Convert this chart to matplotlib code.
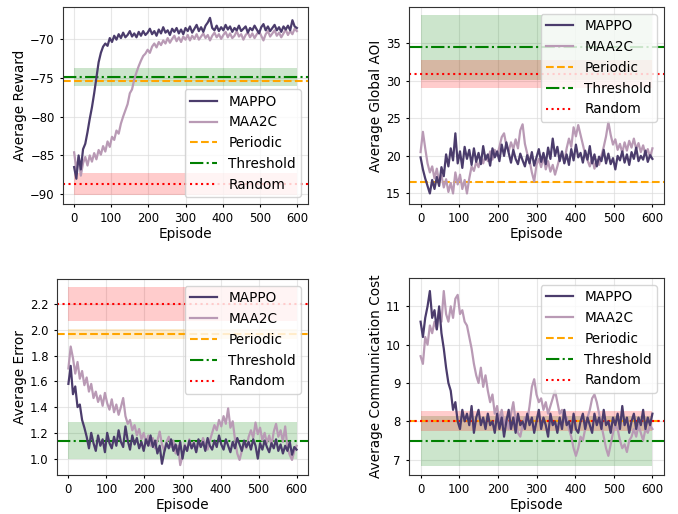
import matplotlib
matplotlib.use('Agg')
import matplotlib.pyplot as plt
import numpy as np

# ---- data (one value every 6 episodes) ----
rewardMappo = [-86.5, -88.0, -85.0, -86.8, -84.2, -83.5, -82.0, -80.3, -78.8, -77.0,
               -75.0, -73.0, -71.8, -71.0, -70.6, -70.9, -69.9, -70.4, -69.6, -70.1,
               -69.4, -69.9, -69.2, -69.8, -69.5, -69.0, -69.7, -69.3, -69.8, -69.1,
               -69.6, -69.0, -69.5, -69.2, -68.7, -69.4, -69.0, -69.6, -68.8, -69.3,
               -68.5, -69.2, -68.9, -69.5, -68.7, -69.1, -68.6, -69.3, -68.8, -69.4,
               -68.6, -69.0, -68.4, -69.2, -68.7, -68.2, -69.0, -68.5, -69.1, -68.3,
               -67.9, -67.3, -68.6, -68.9, -68.3, -69.0, -68.5, -68.9, -68.2, -68.8,
               -68.4, -69.1, -68.6, -68.9, -68.3, -69.0, -68.7, -68.4, -69.2, -68.6,
               -68.9, -68.3, -68.8, -69.3, -68.5, -68.1, -68.9, -68.4, -69.0, -68.6,
               -68.2, -68.9, -68.5, -69.1, -68.4, -68.8, -68.3, -68.9, -67.6, -68.4,
               -68.6]
rewardMaa2c = [-84.6, -86.8, -85.3, -87.6, -86.0, -85.2, -86.3, -85.0, -85.8, -84.7,
               -85.5, -84.3, -84.9, -83.8, -84.5, -83.2, -83.9, -82.6, -83.0, -81.8,
               -82.2, -80.9, -80.0, -79.2, -78.4, -77.0, -76.5, -75.2, -74.3, -73.5,
               -72.8, -72.2, -71.9, -71.4, -71.8, -71.0, -70.6, -71.1, -70.4, -70.8,
               -70.2, -70.6, -69.9, -70.5, -70.0, -69.6, -70.3, -69.8, -70.4, -69.7,
               -70.1, -69.5, -70.2, -69.6, -70.0, -69.4, -70.1, -69.7, -69.3, -69.9,
               -69.5, -70.2, -69.6, -69.2, -69.8, -69.4, -70.0, -69.5, -69.1, -69.8,
               -69.3, -69.9, -69.6, -69.0, -69.7, -69.4, -70.1, -69.5, -69.2, -69.8,
               -69.3, -69.9, -69.4, -69.0, -69.6, -70.2, -69.4, -69.0, -69.7, -69.3,
               -68.9, -69.6, -69.2, -69.8, -69.3, -68.8, -69.5, -69.0, -69.4, -68.7,
               -69.0]

aoiMappo = [19.8, 18.2, 17.0, 16.0, 15.0, 16.8, 15.6, 17.2, 16.0, 18.5,
            17.3, 20.2, 18.6, 21.0, 19.4, 23.0, 19.0, 20.6, 18.4, 21.2,
            19.6, 20.8, 18.8, 21.0, 19.2, 20.4, 18.9, 21.3, 19.5, 20.2,
            18.7, 21.0, 19.8, 20.6, 19.3, 21.5, 20.0, 21.8, 20.4, 19.1,
            20.8, 19.6, 18.9, 20.3, 19.4, 18.6, 20.1, 19.0, 20.5, 18.7,
            19.8, 20.9, 19.2, 20.4, 18.9, 21.1, 19.6, 22.3, 20.0, 21.2,
            19.3, 20.6, 19.0, 20.2, 18.8, 20.9, 19.4, 21.5, 19.8, 20.4,
            19.1, 20.7, 19.5, 21.3, 19.0, 20.2, 18.6, 19.9, 19.3, 20.8,
            19.0, 20.3, 18.9, 19.7, 18.2, 20.0, 19.4, 20.6, 19.1, 20.2,
            18.8, 20.5, 19.6, 21.1, 19.3, 20.0, 19.5, 20.7, 19.2, 20.1,
            19.6]
aoiMaa2c = [20.5, 23.2, 21.0, 19.0, 17.8, 18.6, 17.0, 18.3, 16.5, 17.4,
            15.8, 16.9, 15.2, 16.4, 15.0, 17.8, 16.2, 17.5, 15.6, 16.8,
            15.0, 17.0, 18.6, 18.0, 19.2, 18.5, 19.8, 19.0, 20.1, 19.3,
            20.6, 19.5, 20.8, 20.0, 21.2, 22.5, 23.0, 21.4, 20.6, 21.8,
            20.9, 22.2, 21.0, 23.4, 24.2, 21.6, 20.3, 19.4, 17.8, 16.6,
            18.8, 19.6, 18.5, 19.9, 18.2, 19.3, 17.9, 18.8, 17.5, 18.6,
            19.8, 20.4, 19.1, 21.0, 22.3, 21.2, 23.8, 22.6, 24.1, 22.8,
            21.5, 20.2, 19.4, 18.6, 19.8, 18.3, 19.5, 18.8, 20.0, 21.2,
            22.6, 24.5, 22.8, 21.5, 22.2, 20.8, 21.6, 20.4, 21.8, 20.7,
            22.0, 21.1, 22.3, 20.9, 21.7, 20.5, 21.4, 20.2, 20.9, 19.8,
            21.0]

errMappo = [1.58, 1.72, 1.50, 1.56, 1.40, 1.42, 1.30, 1.24, 1.17, 1.08,
            1.20, 1.12, 1.06, 1.18, 1.10, 1.15, 1.05, 1.20, 1.12, 1.08,
            1.17, 1.10, 1.22, 1.13, 1.09, 1.25, 1.14, 1.07, 1.18, 1.11,
            1.16, 1.08, 1.13, 1.06, 1.15, 1.10, 1.18, 1.09, 1.14, 1.04,
            1.10, 0.96, 1.05, 1.12, 1.08, 1.15, 1.06, 1.11, 1.03, 1.13,
            1.00, 1.10, 1.06, 1.14, 1.08, 1.12, 1.05, 1.15, 1.09, 1.13,
            1.06, 1.16, 1.10, 1.07, 1.14, 1.09, 1.18, 1.11, 1.07, 1.15,
            1.10, 1.05, 1.13, 1.08, 1.16, 1.11, 1.06, 1.14, 1.09, 1.13,
            1.07, 1.15, 1.10, 1.00, 1.12, 1.07, 1.14, 1.09, 1.05, 1.12,
            1.08, 1.15, 1.06, 1.11, 1.04, 1.10, 1.06, 1.13, 1.03, 1.09,
            1.07]
errMaa2c = [1.70, 1.87, 1.78, 1.66, 1.75, 1.62, 1.68, 1.57, 1.63, 1.52,
            1.58, 1.47, 1.52, 1.44, 1.49, 1.41, 1.51, 1.43, 1.38, 1.46,
            1.36, 1.42, 1.34, 1.40, 1.47, 1.33, 1.27, 1.30, 1.22, 1.26,
            1.18, 1.23, 1.15, 1.20, 1.12, 1.18, 1.10, 1.16, 1.08, 1.14,
            1.21, 1.11, 1.06, 1.13, 1.17, 1.09, 1.14, 1.04, 1.10, 0.95,
            1.02, 1.11, 1.06, 1.15, 1.08, 1.13, 1.05, 1.12, 1.09, 1.16,
            1.11, 1.07, 1.14, 1.20, 1.26, 1.22, 1.30, 1.25, 1.33, 1.27,
            1.39, 1.24, 1.29, 1.15, 1.04, 0.99, 1.06, 1.12, 1.08, 1.17,
            1.22, 1.16, 1.28, 1.19, 1.24, 1.14, 1.20, 1.12, 1.18, 1.10,
            1.21, 1.27, 1.17, 1.22, 1.13, 1.25, 1.08, 1.03, 0.99, 1.06,
            1.10]

commMappo = [10.6, 10.2, 10.7, 11.0, 11.4, 10.7, 10.9, 10.4, 11.0, 10.3,
             9.9, 9.4, 9.0, 8.8, 8.3, 8.5, 8.0, 7.8, 8.3, 8.0,
             8.2, 7.9, 8.4, 7.7, 8.1, 8.3, 7.9, 8.1, 7.8, 8.2,
             7.9, 8.0, 7.7, 8.2, 7.8, 8.1, 7.6, 8.0, 8.3, 7.8,
             8.1, 7.7, 8.2, 7.9, 8.0, 7.8, 8.2, 7.9, 8.1, 7.7,
             8.0, 8.3, 7.8, 8.1, 7.9, 7.6, 8.2, 7.9, 8.0, 7.7,
             8.1, 7.8, 8.3, 7.9, 8.0, 7.7, 8.2, 7.8, 7.7, 8.0,
             8.2, 7.8, 8.1, 7.9, 7.7, 8.2, 7.9, 8.1, 7.8, 8.3,
             7.9, 8.0, 7.7, 8.1, 7.9, 8.2, 7.8, 8.4, 7.9, 8.1,
             7.7, 8.0, 8.2, 7.8, 8.1, 7.9, 8.3, 7.8, 8.1, 7.9,
             8.2]
commMaa2c = [9.7, 9.5, 10.2, 10.0, 10.5, 10.3, 10.6, 10.4, 10.9, 10.6,
             11.4, 10.8, 10.6, 11.0, 10.7, 11.2, 11.3, 10.8, 10.9, 10.6,
             10.5, 10.2, 9.9, 9.5, 9.2, 9.0, 9.4, 8.9, 9.2, 8.8,
             8.5, 8.7, 8.2, 8.4, 8.0, 8.3, 7.9, 8.1, 7.8, 8.2,
             8.5, 8.0, 7.7, 7.6, 7.9, 8.1, 8.0, 8.4, 8.9, 9.1,
             8.7, 8.5, 8.6, 8.3, 8.5, 8.2, 8.4, 8.6, 8.8, 8.5,
             8.2, 8.3, 8.0, 8.1, 7.8, 7.6, 7.3, 7.1, 7.3, 7.6,
             7.5, 7.8, 8.1, 8.3, 8.6, 8.7, 8.5, 8.2, 7.9, 7.6,
             7.3, 7.1, 7.4, 7.7, 7.9, 7.8, 7.5, 7.3, 7.4, 7.2,
             7.5, 7.6, 7.8, 7.6, 7.9, 7.7, 7.5, 7.8, 7.7, 7.9,
             7.8]

# baselines: mean and spread for Periodic, Threshold, Random
baseNames = ['Periodic', 'Threshold', 'Random']
rewardBase, rewardBaseStd = [-75.4, -74.9, -88.7], [0.05, 1.2, 1.4]
aoiBase, aoiBaseStd = [16.5, 34.45, 30.9], [0.05, 4.35, 1.85]
errBase, errBaseStd = [1.967, 1.14, 2.2], [0.04, 0.143, 0.135]
commBase, commBaseStd = [8.02, 7.48, 8.0], [0.01, 0.65, 0.265]

# ---- styles ----
cMappo = '#4b3c6c'
cMaa2c = '#b99ab5'
baseColors = ['orange', 'green', 'red']
baseStyles = ['--', '-.', ':']
labSize, tickSize, legSize = 9.8, 8.4, 9.8

W, H = 678, 514
fig = plt.figure(figsize=(W/100., H/100.), dpi=100)

def pixAxes(left, top, right, bottom):
    return fig.add_axes([left/W, 1 - bottom/H, (right-left)/W, (bottom-top)/H])

def drawPanel(ax, mappo, maa2c, base, baseStd, ylabel, ylim, loc):
    ep = np.linspace(0, 600, len(mappo))
    ax.plot(ep, mappo, color=cMappo, lw=1.6, label='MAPPO', zorder=3)
    ax.plot(np.linspace(0, 600, len(maa2c)), maa2c, color=cMaa2c, lw=1.6,
            label='MAA2C', zorder=2.5)
    for name, m, s, c, ls in zip(baseNames, base, baseStd, baseColors, baseStyles):
        ax.axhline(m, color=c, ls=ls, lw=1.5, label=name, zorder=2)
        ax.fill_between([0, 600], m - s, m + s, color=c, alpha=0.2, lw=0,
                        zorder=1)
    ax.set_ylim(ylim)
    ax.set_xticks([0, 100, 200, 300, 400, 500, 600])
    ax.set_xlabel('Episode', fontsize=labSize, labelpad=1)
    ax.set_ylabel(ylabel, fontsize=labSize, labelpad=2)
    ax.tick_params(labelsize=tickSize, length=2.5, pad=3.5)
    ax.grid(True, color='#dddddd', lw=0.8, alpha=0.7)
    ax.set_axisbelow(True)
    for sp in ax.spines.values():
        sp.set_color('#333333')
    leg = ax.legend(loc=loc, fontsize=legSize, handlelength=2.0)
    leg.set_zorder(5)

ax1 = pixAxes(63, 7, 308, 204)
drawPanel(ax1, rewardMappo, rewardMaa2c, rewardBase, rewardBaseStd,
          'Average Reward', (-91.25, -65.9), 'lower right')

ax2 = pixAxes(409, 7, 664, 204)
drawPanel(ax2, aoiMappo, aoiMaa2c, aoiBase, aoiBaseStd,
          'Average Global AOI', (13.6, 39.8), 'upper right')

ax3 = pixAxes(57, 279, 308, 475)
drawPanel(ax3, errMappo, errMaa2c, errBase, errBaseStd,
          'Average Error', (0.873, 2.394), 'upper right')

ax4 = pixAxes(409, 278, 664, 475)
drawPanel(ax4, commMappo, commMaa2c, commBase, commBaseStd,
          'Average Communication Cost', (6.6, 11.74), 'upper right')

fig.savefig('out.png', dpi=100)
